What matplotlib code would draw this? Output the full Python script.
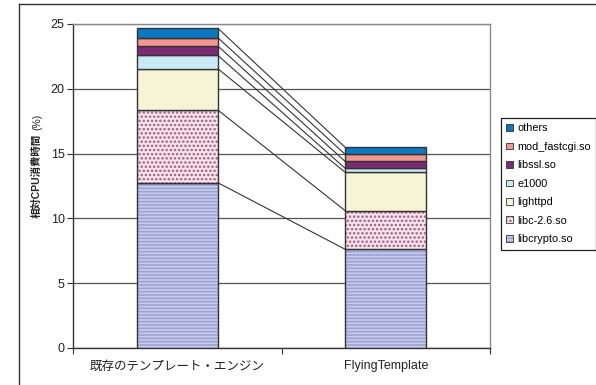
import matplotlib
matplotlib.use("Agg")
import matplotlib.pyplot as plt
import numpy as np
from matplotlib.lines import Line2D

plt.rcParams['font.family'] = ['Liberation Sans', 'Noto Sans CJK JP', 'DejaVu Sans']
plt.rcParams['hatch.linewidth'] = 1.2

# Data: relative CPU time (%) per component
categories = ["既存のテンプレート・エンジン", "FlyingTemplate"]
components = ["libcrypto.so", "libc-2.6.so", "lighttpd", "e1000",
              "libssl.so", "mod_fastcgi.so", "others"]
libcrypto = [12.75, 7.62]
libc = [5.61, 2.98]
lighttpd = [3.19, 2.96]
e1000 = [1.03, 0.31]
libssl = [0.72, 0.53]
mod_fastcgi = [0.64, 0.55]
others = [0.73, 0.54]
yticks = [0, 5, 10, 15, 20, 25]

series = [libcrypto, libc, lighttpd, e1000, libssl, mod_fastcgi, others]
styles = [
    dict(facecolor="#c9cdea", hatch="-----", hatchcolor="#9aa2d6"),
    dict(facecolor="#f6e6ee", hatch="....", hatchcolor="#a8577e"),
    dict(facecolor="#f5f4d4", hatch=None, hatchcolor=None),
    dict(facecolor="#c8eaf5", hatch=None, hatchcolor=None),
    dict(facecolor="#7f2a78", hatch=None, hatchcolor=None),
    dict(facecolor="#f2968e", hatch=None, hatchcolor=None),
    dict(facecolor="#0a78c2", hatch=None, hatchcolor=None),
]

W, H = 596, 385
fig = plt.figure(figsize=(W / 100, H / 100), dpi=100)
ax = fig.add_axes([73 / W, 1 - 348 / H, (490 - 73) / W, (348 - 24) / H])

x = np.arange(len(categories))
width = 0.39
bottom = np.zeros(len(categories))
tops = []
for vals, st, name in zip(series, styles, components):
    vals = np.array(vals)
    bars = ax.bar(x, vals, width, bottom=bottom, facecolor=st["facecolor"],
                  edgecolor="#333333", linewidth=1.0, label=name, zorder=3)
    if st["hatch"]:
        for b in bars:
            b.set_hatch(st["hatch"])
            b._hatch_color = matplotlib.colors.to_rgba(st["hatchcolor"])
    bottom = bottom + vals
    tops.append(bottom.copy())

# connector lines between matching segment tops
for t in tops:
    ax.plot([x[0] + width / 2, x[1] - width / 2], [t[0], t[1]],
            color="#333333", linewidth=0.8, zorder=2)

ax.set_xlim(-0.5, 1.5)
ax.set_ylim(0, 25)
ax.set_yticks(yticks)
ax.yaxis.grid(True, color="#555555", linewidth=0.9, zorder=0)
ax.set_axisbelow(True)
ax.tick_params(axis="y", direction="out", length=4, width=0.8, pad=2,
               labelsize=9, color="#333333", labelcolor="#222222")
ax.set_xticks(x)
ax.set_xticklabels(categories)
ax.tick_params(axis="x", which="major", length=0, pad=9, labelsize=9,
               labelcolor="#222222")
ax.set_xticks([-0.5, 0.5, 1.5], minor=True)
ax.tick_params(axis="x", which="minor", direction="out", length=4, width=0.8,
               color="#333333")
for s in ["top", "right"]:
    ax.spines[s].set_color("#8a8a8a")
    ax.spines[s].set_linewidth(1.0)
for s in ["left", "bottom"]:
    ax.spines[s].set_color("#333333")
    ax.spines[s].set_linewidth(1.0)

# y-axis label: bold Japanese part followed by the regular unit
ylab = fig.text(37 / W, 1 - 218 / H, "相対CPU消費時間", rotation=90, ha="center",
                va="bottom", fontsize=7.5, fontweight="bold", color="#222222")
fig.canvas.draw()
ext = ylab.get_window_extent(renderer=fig.canvas.get_renderer())
fig.text(37 / W, (ext.y1 + 4) / H, "(%)", rotation=90, ha="center",
         va="bottom", fontsize=7.5, color="#222222")

# legend, top entry first
handles, labels = ax.get_legend_handles_labels()
leg = fig.legend(handles[::-1], labels[::-1], loc="upper left",
                 bbox_to_anchor=(501 / W, 1 - 118 / H), borderaxespad=0,
                 fontsize=7.8, frameon=True, fancybox=False,
                 edgecolor="#222222", framealpha=1, handlelength=0.6,
                 handleheight=0.6, handletextpad=0.4, labelspacing=0.78,
                 borderpad=0.5)
leg.get_frame().set_linewidth(0.9)
for h in leg.legend_handles:
    h.set_linewidth(0.6)

# outer chart frame
fig.add_artist(Line2D([19 / W, 1.0], [1 - 4 / H, 1 - 4 / H],
                      transform=fig.transFigure, color="#333333", linewidth=1.0))
fig.add_artist(Line2D([19 / W, 19 / W], [0.0, 1 - 4 / H],
                      transform=fig.transFigure, color="#333333", linewidth=1.0))

fig.savefig("out.png", dpi=100)
